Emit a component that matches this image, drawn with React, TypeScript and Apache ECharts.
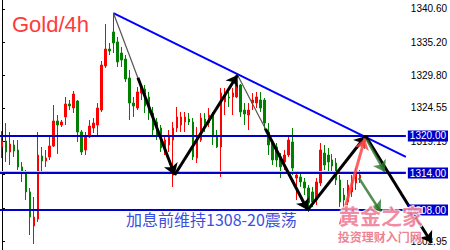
import React, { useEffect, useRef } from "react";
import * as echarts from "echarts";

// Number of candle slots across the plot; the right-hand slots stay empty
// so there is room for the projected moves.
const SLOTS = 102;

// 4h gold candles: [open, close, low, high]
const candles: number[][] = [
  [1318.22, 1319.19, 1316.43, 1320.81],
  [1319.19, 1317.41, 1315.79, 1322.1],
  [1317.41, 1318.7, 1315.3, 1320.65],
  [1318.54, 1317.57, 1316.6, 1319.35],
  [1317.73, 1314.98, 1314.49, 1319.35],
  [1314.98, 1314.0, 1312.55, 1315.79],
  [1314.0, 1310.93, 1309.63, 1314.49],
  [1310.93, 1306.87, 1303.96, 1311.57],
  [1305.42, 1306.87, 1302.5, 1310.12],
  [1306.55, 1316.92, 1306.07, 1320.65],
  [1316.76, 1315.95, 1314.17, 1318.22],
  [1315.95, 1316.43, 1314.98, 1317.73],
  [1316.6, 1318.38, 1316.11, 1319.84],
  [1318.38, 1322.43, 1318.22, 1325.02],
  [1322.43, 1321.78, 1317.08, 1323.4],
  [1321.78, 1322.27, 1321.46, 1322.59],
  [1323.08, 1325.18, 1321.78, 1326.32],
  [1325.18, 1324.86, 1324.21, 1325.83],
  [1324.53, 1326.8, 1323.72, 1327.29],
  [1325.67, 1320.65, 1319.03, 1325.83],
  [1320.65, 1317.41, 1316.92, 1320.97],
  [1317.73, 1319.84, 1316.92, 1320.65],
  [1319.84, 1321.62, 1319.67, 1322.59],
  [1321.29, 1322.1, 1320.48, 1322.91],
  [1321.78, 1324.53, 1319.84, 1325.34],
  [1324.21, 1331.5, 1323.89, 1332.15],
  [1331.34, 1334.09, 1331.02, 1338.14],
  [1334.09, 1333.77, 1333.12, 1335.07],
  [1336.85, 1335.07, 1333.44, 1339.92],
  [1335.23, 1331.99, 1331.18, 1336.04],
  [1333.44, 1332.31, 1331.18, 1334.42],
  [1332.47, 1329.23, 1328.75, 1333.12],
  [1329.39, 1325.34, 1322.59, 1330.69],
  [1325.34, 1324.86, 1323.08, 1326.32],
  [1324.53, 1327.13, 1324.21, 1327.94],
  [1326.96, 1327.94, 1325.83, 1328.26],
  [1327.61, 1324.86, 1323.72, 1328.26],
  [1326.32, 1323.72, 1322.59, 1327.13],
  [1323.72, 1320.97, 1320.16, 1324.7],
  [1322.27, 1320.16, 1319.35, 1322.91],
  [1321.29, 1318.05, 1317.41, 1321.78],
  [1317.73, 1319.35, 1316.92, 1320.16],
  [1318.54, 1320.16, 1317.41, 1320.97],
  [1319.35, 1321.29, 1311.74, 1322.27],
  [1321.29, 1323.08, 1320.65, 1324.7],
  [1321.78, 1323.08, 1320.65, 1323.89],
  [1322.27, 1323.08, 1320.65, 1323.89],
  [1322.75, 1322.27, 1321.78, 1323.72],
  [1322.27, 1316.6, 1316.11, 1322.91],
  [1316.43, 1320.0, 1315.62, 1321.46],
  [1319.35, 1322.91, 1319.03, 1323.72],
  [1322.75, 1322.1, 1320.65, 1323.72],
  [1322.1, 1323.4, 1321.46, 1324.53],
  [1323.4, 1319.84, 1318.54, 1323.89],
  [1319.84, 1318.22, 1318.05, 1320.97],
  [1318.22, 1326.96, 1313.36, 1327.77],
  [1325.51, 1326.48, 1323.4, 1327.77],
  [1326.32, 1326.15, 1324.7, 1327.13],
  [1326.32, 1326.96, 1323.4, 1327.77],
  [1326.32, 1328.26, 1326.15, 1328.75],
  [1328.26, 1323.89, 1323.08, 1328.42],
  [1324.21, 1323.56, 1321.78, 1325.34],
  [1323.4, 1324.21, 1320.97, 1325.34],
  [1325.34, 1325.83, 1324.21, 1326.96],
  [1325.34, 1326.32, 1324.53, 1327.13],
  [1325.83, 1324.53, 1323.89, 1327.13],
  [1325.83, 1322.1, 1320.97, 1326.15],
  [1320.65, 1318.54, 1316.92, 1322.1],
  [1318.86, 1316.11, 1315.3, 1319.35],
  [1318.22, 1316.11, 1314.98, 1318.86],
  [1316.6, 1314.98, 1313.19, 1317.24],
  [1315.79, 1316.92, 1314.49, 1317.73],
  [1316.92, 1319.35, 1316.6, 1319.84],
  [1319.03, 1314.81, 1313.68, 1321.29],
  [1313.19, 1313.68, 1309.63, 1314.0],
  [1313.36, 1312.55, 1311.74, 1314.17],
  [1312.55, 1311.57, 1310.44, 1313.19],
  [1311.57, 1309.14, 1307.69, 1312.06],
  [1310.93, 1309.31, 1308.5, 1311.74],
  [1309.63, 1312.55, 1308.82, 1313.19],
  [1312.38, 1317.73, 1311.9, 1318.86],
  [1317.24, 1315.3, 1314.49, 1318.54],
  [1316.92, 1315.79, 1314.17, 1318.05],
  [1316.11, 1315.14, 1314.17, 1317.08],
  [1315.62, 1312.87, 1312.06, 1316.43],
  [1312.87, 1309.31, 1308.5, 1313.68],
  [1310.44, 1309.63, 1307.69, 1311.57],
  [1309.31, 1312.06, 1308.33, 1312.87],
  [1310.93, 1312.87, 1310.12, 1313.68],
  [1312.38, 1314.0, 1311.25, 1314.81],
  [1313.19, 1313.68, 1312.38, 1314.49],
];

// Support / resistance levels and the bid line
const levels = [1320, 1314, 1308];
const bidLine = 1314.25;

// Price scale: tick marks, and the tick labels left uncovered by the level boxes
const yMin = 1301.53;
const yMax = 1342.03;
const tickValues = [1302.95, 1308.35, 1313.75, 1319.15, 1324.55, 1329.8, 1335.2, 1340.6];
const tickLabels = [1302.95, 1319.15, 1324.55, 1329.8, 1335.2, 1340.6];

// Descending resistance from the swing high: [slot, price]
const trendLine = [
  [28, 1339.92],
  [101.5, 1316.6],
];

// Swing path drawn as arrows: [slot, price] pairs; tapered ones start thin
const swingArrows = [
  { from: [28, 1339.92], to: [43.4, 1313.68], tapered: true },
  { from: [43.4, 1313.68], to: [59.2, 1329.88], tapered: false },
  { from: [59.2, 1329.88], to: [76.8, 1308.0], tapered: true },
  { from: [76.8, 1308.0], to: [91.4, 1320.0], tapered: false },
  { from: [91.4, 1320.0], to: [108, 1302.67], tapered: false },
];
const redArrow = { from: [85, 1305.6], to: [91.2, 1319.6] };
const greenArrows = [
  { from: [91.7, 1319.35], to: [96.2, 1314.17] },
  { from: [89.7, 1313.19], to: [95.2, 1307.69] },
];

const title = "Gold/4h";
const note = "加息前维持1308-20震荡";
const brand = "黄金之家";
const brandSub = "投资理财入门网";

const lerp = (a: number[], b: number[], t: number) => [a[0] + (b[0] - a[0]) * t, a[1] + (b[1] - a[1]) * t];

export default function App() {
  const ref = useRef<HTMLDivElement>(null);

  useEffect(() => {
    if (!ref.current) return;
    const chart = echarts.init(ref.current, null, { renderer: "svg" });

    const slots = Array.from({ length: SLOTS }, (_, i) => String(i));

    const thinParts = swingArrows
      .filter((a) => a.tapered)
      .map((a) => ({ coords: [a.from, lerp(a.from, a.to, 0.45)] }));
    const thickParts = swingArrows.map((a) => ({
      coords: [a.tapered ? lerp(a.from, a.to, 0.4) : a.from, a.to],
    }));

    const arrowSeries = (data: any[], color: string, width: number, arrow: boolean, z: number) => ({
      type: "lines",
      coordinateSystem: "cartesian2d",
      xAxisIndex: 1,
      yAxisIndex: 0,
      clip: false,
      silent: true,
      z,
      symbol: arrow ? ["none", "arrow"] : ["none", "none"],
      symbolSize: 11,
      lineStyle: { color, width, opacity: 1, curveness: 0 },
      data,
    });

    chart.setOption({
      animation: false,
      backgroundColor: "#ffffff",
      grid: { left: 0, right: 43, top: 0, bottom: 0, containLabel: false },
      xAxis: [
        { type: "category", data: slots, show: false, boundaryGap: true },
        { type: "value", min: -0.5, max: SLOTS - 0.5, show: false },
      ],
      yAxis: {
        type: "value",
        position: "right",
        min: yMin,
        max: yMax,
        axisLine: { show: true, lineStyle: { color: "#000", width: 1 } },
        axisTick: { show: true, length: 3, customValues: tickValues, lineStyle: { color: "#000" } },
        axisLabel: {
          customValues: tickLabels,
          formatter: (v: number) => v.toFixed(2),
          color: "#000",
          fontSize: 10,
          fontFamily: "Liberation Sans",
          margin: 5,
        },
        splitLine: { show: false },
      },
      series: [
        {
          type: "candlestick",
          xAxisIndex: 0,
          yAxisIndex: 0,
          barWidth: 2,
          data: candles,
          itemStyle: {
            color: "#ff0000",
            color0: "#008000",
            borderColor: "#ff0000",
            borderColor0: "#008000",
            borderWidth: 1,
          },
          markLine: {
            silent: true,
            symbol: ["none", "none"],
            data: [
              {
                yAxis: bidLine,
                lineStyle: { color: "#c4c4c4", width: 1, type: "solid" },
                label: { show: false },
              },
              ...levels.map((v) => ({
                yAxis: v,
                lineStyle: { color: "#0000c8", width: 2, type: "solid" },
                label: {
                  show: true,
                  position: "end",
                  distance: 2,
                  formatter: v.toFixed(2),
                  color: "#ffffff",
                  backgroundColor: "#0000c8",
                  padding: [1, 2, 0, 2],
                  fontSize: 10,
                  fontFamily: "Liberation Sans",
                },
              })),
            ],
          },
        },
        arrowSeries([{ coords: trendLine }], "#0000ff", 2, false, 3),
        arrowSeries(thinParts, "#555555", 1.2, false, 4),
        arrowSeries(thickParts, "#000000", 3, true, 5),
        arrowSeries([{ coords: [redArrow.from, redArrow.to] }], "rgba(255,70,70,0.85)", 3, true, 6),
        arrowSeries(
          greenArrows.map((a) => ({ coords: [a.from, a.to] })),
          "rgba(40,115,40,0.8)",
          2.5,
          true,
          6
        ),
      ],
      graphic: [
        {
          type: "text",
          left: 12,
          top: 13,
          z: 20,
          style: { text: title, fill: "#ff3b3b", font: '22px "Liberation Sans"' },
        },
        {
          type: "text",
          left: 126,
          top: 211,
          z: 20,
          style: { text: note, fill: "#3c4fdc", fontSize: 16, fontFamily: "Noto Sans CJK SC" },
        },
        {
          type: "text",
          left: 338,
          top: 203,
          z: 30,
          style: {
            text: brand,
            fill: "rgba(236,96,128,0.72)",
            stroke: "rgba(255,255,255,0.85)",
            lineWidth: 2,
            fontSize: 21,
            fontWeight: "bold",
            fontFamily: "Noto Sans CJK SC",
          },
        },
        {
          type: "text",
          left: 337,
          top: 230,
          z: 30,
          style: {
            text: brandSub,
            fill: "rgba(232,80,104,0.72)",
            stroke: "rgba(255,255,255,0.8)",
            lineWidth: 1.5,
            fontSize: 12,
            fontWeight: "bold",
            fontFamily: "Noto Sans CJK SC",
          },
        },
      ],
    });

    return () => chart.dispose();
  }, []);

  return (
    <div
      ref={ref}
      style={{ position: "fixed", left: 0, top: 0, width: 450, height: 250, background: "#fff" }}
    />
  );
}
